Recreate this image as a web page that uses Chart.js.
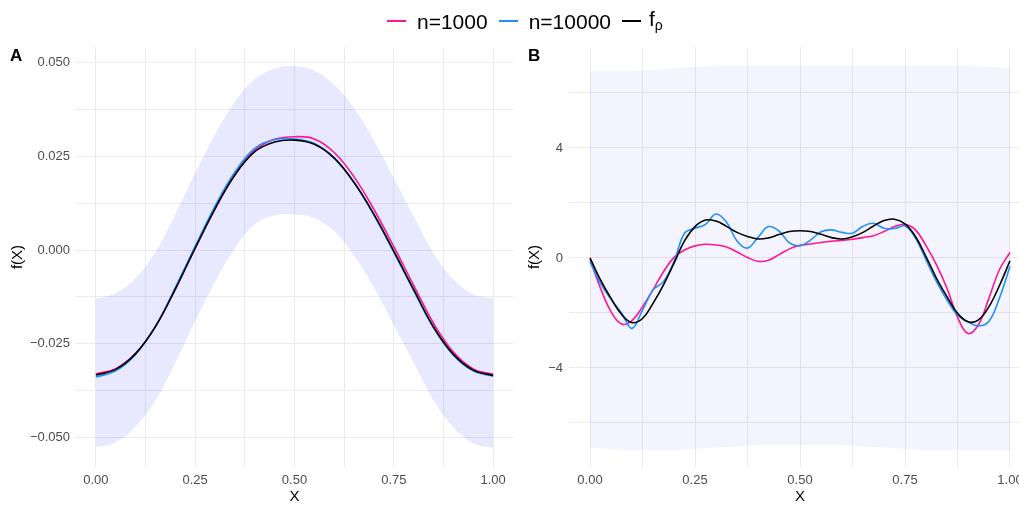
<!DOCTYPE html>
<html>
<head>
<meta charset="utf-8">
<script src="https://cdn.jsdelivr.net/npm/chart.js@4.4.1/dist/chart.umd.min.js"></script>
<style>
  html, body { margin: 0; padding: 0; background: #fff; overflow: hidden; }
  body { width: 1019px; height: 506px; position: relative; font-family: "Liberation Sans", Arial, sans-serif; }
  canvas { position: absolute; top: 0; }
  #chartA { left: 0; }
  #chartB { left: 517px; }
  .tag { position: absolute; top: 47px; font-weight: bold; font-size: 17px; line-height: 1; }
  #legend { position: absolute; top: 7px; left: 387px; display: flex; align-items: center; font-size: 21px; line-height: 24px; white-space: nowrap; }
  .key { width: 19px; height: 0; border-top: 2px solid; margin-right: 11px; position: relative; top: -1px; }
  .lab { margin-right: 11px; }
  .lab sub { font-size: 14px; vertical-align: -4px; }
</style>
</head>
<body>
<canvas id="chartA" width="540" height="506"></canvas>
<canvas id="chartB" width="540" height="506"></canvas>
<div class="tag" style="left:10px">A</div>
<div class="tag" style="left:528px">B</div>
<div id="legend">
  <span class="key" style="border-color:#ff1493"></span><span class="lab">n=1000</span>
  <span class="key" style="border-color:#1e90ff"></span><span class="lab">n=10000</span>
  <span class="key" style="border-color:#000;margin-right:8px"></span><span class="lab">f<sub>ρ</sub></span>
</div>
<script>
// shared x axis
const xTicks = [0, 0.125, 0.25, 0.375, 0.5, 0.625, 0.75, 0.875, 1];
const xTickLabels = ['0.00', '', '0.25', '', '0.50', '', '0.75', '', '1.00'];

// panel A
const xA = [0, 0.05, 0.1, 0.15, 0.2, 0.25, 0.3, 0.35, 0.4, 0.45, 0.5, 0.55, 0.6, 0.65, 0.7, 0.75, 0.8, 0.85, 0.9, 0.95, 1];
const pinkA  = [-0.0330, -0.0316, -0.0275, -0.0204, -0.0104, 0.0006, 0.0110, 0.0202, 0.0266, 0.0295, 0.0302, 0.0296, 0.0260, 0.0195, 0.0108, 0.0009, -0.0094, -0.0195, -0.0272, -0.0317, -0.0331];
const blueA  = [-0.0338, -0.0322, -0.0278, -0.0203, -0.0100, 0.0010, 0.0117, 0.0208, 0.0271, 0.0294, 0.0296, 0.0284, 0.0246, 0.0180, 0.0093, -0.0006, -0.0108, -0.0207, -0.0280, -0.0322, -0.0336];
const blackA = [-0.0333, -0.0318, -0.0276, -0.0204, -0.0104, 0.0005, 0.0110, 0.0200, 0.0262, 0.0288, 0.0293, 0.0282, 0.0245, 0.0180, 0.0095, -0.0003, -0.0105, -0.0205, -0.0278, -0.0320, -0.0334];
const hazeUpperA = [-0.0130, -0.0115, -0.0075, -0.0005, 0.0095, 0.0205, 0.0308, 0.0395, 0.0455, 0.0483, 0.0490, 0.0478, 0.0440, 0.0378, 0.0292, 0.0192, 0.0090, -0.0008, -0.0078, -0.0118, -0.0130];
const hazeLowerA = [-0.0525, -0.0512, -0.0470, -0.0400, -0.0300, -0.0190, -0.0085, 0.0005, 0.0068, 0.0092, 0.0095, 0.0085, 0.0050, -0.0015, -0.0100, -0.0200, -0.0300, -0.0400, -0.0472, -0.0515, -0.0528];
const yTicksA = [-0.05, -0.0375, -0.025, -0.0125, 0, 0.0125, 0.025, 0.0375, 0.05];
const yTickLabelsA = ['\u22120.050', '', '\u22120.025', '', '0.000', '', '0.025', '', '0.050'];

// panel B
const xB = [0, 0.025, 0.05, 0.075, 0.1, 0.125, 0.15, 0.175, 0.2, 0.225, 0.25, 0.275, 0.3, 0.325, 0.35, 0.375, 0.4, 0.425, 0.45, 0.475, 0.5,
            0.525, 0.55, 0.575, 0.6, 0.625, 0.65, 0.675, 0.7, 0.725, 0.75, 0.775, 0.8, 0.825, 0.85, 0.875, 0.9, 0.925, 0.95, 0.975, 1];
const pinkB  = [-0.05, -1.10, -1.95, -2.40, -2.28, -1.77, -1.16, -0.50, 0.02, 0.29, 0.44, 0.50, 0.47, 0.40, 0.22, 0.02, -0.12, -0.08, 0.12, 0.33, 0.46,
                0.51, 0.56, 0.61, 0.64, 0.68, 0.74, 0.81, 0.96, 1.14, 1.22, 1.02, 0.45, -0.25, -1.10, -2.15, -2.75, -2.42, -1.45, -0.42, 0.20];
const blueB  = [-0.13, -0.92, -1.50, -2.00, -2.56, -1.90, -1.16, -0.86, -0.13, 0.90, 1.08, 1.22, 1.60, 1.30, 0.62, 0.36, 0.75, 1.14, 0.98, 0.55, 0.44,
                0.65, 0.95, 1.02, 0.93, 0.90, 1.15, 1.26, 1.08, 1.07, 1.16, 0.72, -0.07, -0.86, -1.53, -2.07, -2.32, -2.47, -2.30, -1.45, -0.30];
const blackB = [0.00, -0.80, -1.47, -2.05, -2.35, -2.20, -1.65, -0.98, -0.19, 0.62, 1.14, 1.38, 1.34, 1.15, 0.93, 0.78, 0.69, 0.73, 0.85, 0.96, 0.99,
                0.96, 0.86, 0.74, 0.69, 0.77, 0.93, 1.16, 1.36, 1.41, 1.24, 0.78, 0.05, -0.74, -1.41, -2.01, -2.32, -2.25, -1.77, -1.00, -0.10];
const xHazeB = [0, 0.1, 0.2, 0.3, 0.4, 0.5, 0.6, 0.7, 0.8, 0.9, 1];
const hazeUpperB = [6.8, 6.8, 6.9, 7.0, 7.0, 7.0, 7.0, 7.0, 7.0, 7.0, 6.9];
const hazeLowerB = [-6.9, -7.0, -7.0, -6.9, -6.8, -6.8, -6.8, -6.9, -7.0, -7.0, -7.0];
const yTicksB = [-6, -4, -2, 0, 2, 4, 6];
const yTickLabelsB = ['', '\u22124', '', '0', '', '4', ''];

const PINK = '#ff1493';
const BLUE = '#1e90ff';
const GRID = '#ebebeb';

Chart.defaults.font.family = '"Liberation Sans", Arial, sans-serif';

const pts = (xs, ys) => xs.map((x, i) => ({ x: x, y: ys[i] }));

function lineSet(label, xs, ys, color, order) {
  return { label: label, data: pts(xs, ys), borderColor: color, borderWidth: 1.6, tension: 0.4, fill: false, order: order };
}

function hazeSets(xs, lower, upper, color, tension) {
  return [
    { data: pts(xs, lower), borderWidth: 0, borderColor: 'rgba(0,0,0,0)', tension: tension, fill: false, order: 9 },
    { data: pts(xs, upper), borderWidth: 0, borderColor: 'rgba(0,0,0,0)', tension: tension, fill: 0, backgroundColor: color, order: 8 }
  ];
}

function panelOptions(yMin, yMax, yTicks, yLabels, yWidth, padRight) {
  return {
    responsive: false,
    animation: false,
    layout: { padding: { top: 47, right: padRight, bottom: 0, left: 0 } },
    plugins: { legend: { display: false }, tooltip: { enabled: false } },
    elements: { point: { radius: 0 } },
    scales: {
      x: {
        type: 'linear', min: -0.05, max: 1.05,
        afterBuildTicks: s => { s.ticks = xTicks.map(v => ({ value: v })); },
        afterFit: s => { s.height = 39; },
        ticks: { autoSkip: false, maxRotation: 0, padding: 6, color: '#4d4d4d', font: { size: 13 },
                 callback: (v, i) => xTickLabels[i] },
        grid: { color: GRID, lineWidth: 1, drawTicks: false },
        border: { display: false },
        title: { display: true, text: 'X', color: '#000', font: { size: 15 }, padding: 0 }
      },
      y: {
        type: 'linear', min: yMin, max: yMax,
        afterBuildTicks: s => { s.ticks = yTicks.map(v => ({ value: v })); },
        afterFit: s => { s.width = yWidth; },
        ticks: { autoSkip: false, padding: 6, color: '#4d4d4d', font: { size: 13 },
                 callback: (v, i) => yLabels[i] },
        grid: { color: GRID, lineWidth: 1, drawTicks: false },
        border: { display: false },
        title: { display: true, text: 'f(X)', color: '#000', font: { size: 15 }, padding: { top: 9, bottom: 0 } }
      }
    }
  };
}

new Chart(document.getElementById('chartA'), {
  type: 'line',
  data: {
    datasets: [
      ...hazeSets(xA, hazeLowerA, hazeUpperA, 'rgba(0,0,255,0.09)', 0.4),
      lineSet('n=1000', xA, pinkA, PINK, 3),
      lineSet('n=10000', xA, blueA, BLUE, 2),
      lineSet('f_rho', xA, blackA, '#000', 1)
    ]
  },
  options: panelOptions(-0.0578, 0.0541, yTicksA, yTickLabelsA, 76, 27)
});

new Chart(document.getElementById('chartB'), {
  type: 'line',
  data: {
    datasets: [
      ...hazeSets(xHazeB, hazeLowerB, hazeUpperB, 'rgba(0,0,255,0.045)', 0),
      lineSet('n=1000', xB, pinkB, PINK, 3),
      lineSet('n=10000', xB, blueB, BLUE, 2),
      lineSet('f_rho', xB, blackB, '#000', 1)
    ]
  },
  options: panelOptions(-7.6, 7.67, yTicksB, yTickLabelsB, 52, 26)
});
</script>
</body>
</html>
